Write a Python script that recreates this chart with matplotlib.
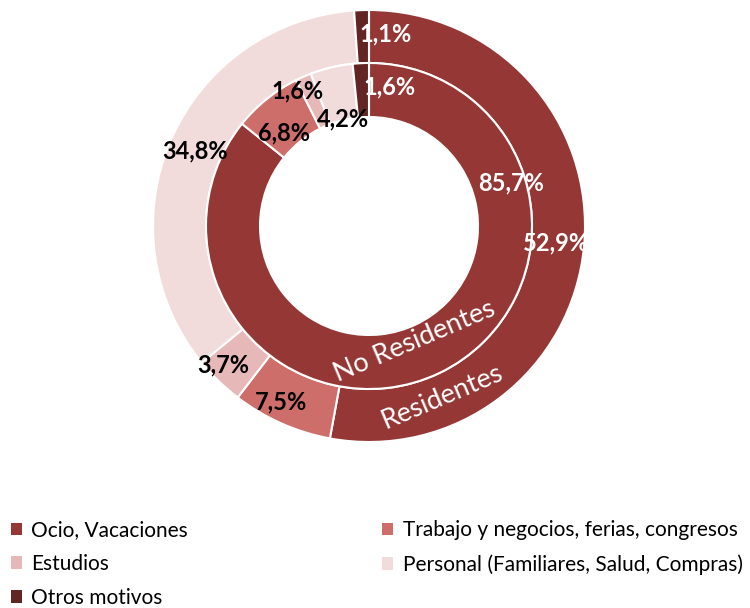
import numpy as np
import matplotlib
matplotlib.use('Agg')
import matplotlib.pyplot as plt
from matplotlib.patches import Patch

# data (percent)
categories = ['Ocio, Vacaciones', 'Trabajo y negocios, ferias, congresos', 'Estudios',
              'Personal (Familiares, Salud, Compras)', 'Otros motivos']
residentes = [52.9, 7.5, 3.7, 34.8, 1.1]
no_residentes = [85.7, 6.8, 1.6, 4.2, 1.6]
series_names = ['Residentes', 'No Residentes']

colors = ['#953735', '#CD6E6B', '#E6B9B8', '#F2DCDB', '#632523']
label_colors = ['white', 'black', 'black', 'black', 'white']

# small nudges for the percentage labels (points), like the hand-moved Excel labels
outer_offsets = [(0, 0), (-8, -2), (-10, -2), (0, 0), (17, 2)]
inner_offsets = [(0, 0), (0, -9), (-12, 8), (4, -18), (20, 2)]

plt.rcParams['font.family'] = ['Lato', 'DejaVu Sans']

fig = plt.figure(figsize=(7.5, 6.08), dpi=100)
ax = fig.add_axes([153 / 750, (382 - 216) / 608, 432 / 750, 432 / 608])

r_out = 1.0
r_mid = 163 / 216
r_in = 109 / 216

w_out, _ = ax.pie(residentes, radius=r_out, colors=colors, startangle=90, counterclock=False,
                  wedgeprops=dict(width=r_out - r_mid, edgecolor='white', linewidth=1.5))
w_in, _ = ax.pie(no_residentes, radius=r_mid, colors=colors, startangle=90, counterclock=False,
                 wedgeprops=dict(width=r_mid - r_in, edgecolor='white', linewidth=1.5))
ax.set_xlim(-1, 1)
ax.set_ylim(-1, 1)
ax.set_aspect('equal')
ax.axis('off')


def fmt(v):
    return f"{v:.1f}%".replace('.', ',')


def put_labels(wedges, values, radius, offsets):
    for i in range(1, len(values)):
        w = wedges[i]
        ang = np.deg2rad((w.theta1 + w.theta2) / 2)
        x, y = radius * np.cos(ang), radius * np.sin(ang)
        ax.annotate(fmt(values[i]), (x, y), xytext=offsets[i], textcoords='offset points',
                    ha='center', va='center', fontsize=17, fontweight='bold',
                    color=label_colors[i])


put_labels(w_out, residentes, (r_out + r_mid) / 2, outer_offsets)
put_labels(w_in, no_residentes, (r_mid + r_in) / 2, inner_offsets)

# big Ocio labels
a = np.deg2rad((w_out[0].theta1 + w_out[0].theta2) / 2)
ax.text(0.87 * np.cos(a), 0.87 * np.sin(a), fmt(residentes[0]), ha='center', va='center',
        fontsize=17, fontweight='bold', color='white')
ax.text(0.66, 0.2, fmt(no_residentes[0]), ha='center', va='center',
        fontsize=17, fontweight='bold', color='white')

# series names inside the Ocio wedges
a_in = (w_in[0].theta1 + w_in[0].theta2) / 2
for name, rad, da in zip(series_names, [0.862, 0.572], [-2.3, -4.2]):
    ar = np.deg2rad(a_in + da)
    ax.text(rad * np.cos(ar), rad * np.sin(ar), name, ha='center', va='center',
            rotation=23, rotation_mode='anchor', fontsize=19.5, color='white')

# legend, filled row by row like the original
order = [0, 2, 4, 1, 3]
handles = [Patch(facecolor=colors[i], edgecolor='none') for i in order]
labels = [categories[i] for i in order]
fig.legend(handles, labels, ncol=2, loc='upper left', bbox_to_anchor=(0.003, 0.158),
           frameon=False, fontsize=15, handlelength=0.55, handleheight=0.55,
           handletextpad=0.45, columnspacing=9.3, labelspacing=0.66, borderaxespad=0)

fig.savefig('out.png', dpi=100, facecolor='white')
